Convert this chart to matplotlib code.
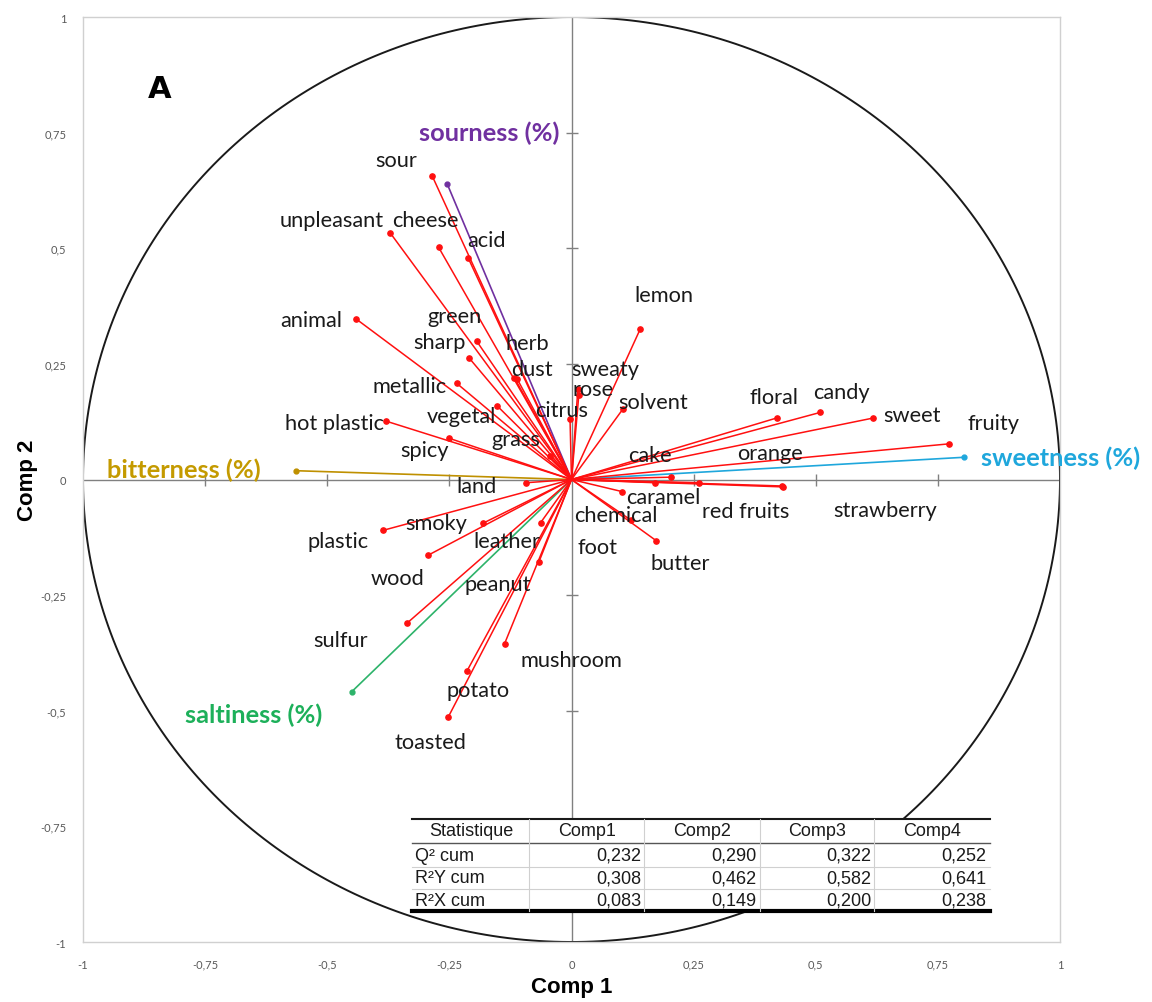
import matplotlib
matplotlib.use("Agg")
import matplotlib.pyplot as plt
import numpy as np

# ---------------- data ----------------
variables = ["sour", "unpleasant", "cheese", "acid", "animal", "green", "sharp", "herb", "dust",
             "metallic", "vegetal", "hot plastic", "spicy", "grass", "citrus", "rose", "sweaty",
             "lemon", "solvent", "floral", "candy", "sweet", "fruity", "cake", "orange", "caramel",
             "chemical", "red fruits", "strawberry", "foot", "butter", "land", "plastic", "smoky",
             "leather", "wood", "peanut", "sulfur", "mushroom", "potato", "toasted"]
comp1 = [-0.285, -0.371, -0.272, -0.212, -0.442, -0.194, -0.209, -0.117, -0.111,
         -0.235, -0.152, -0.379, -0.250, -0.045, -0.003, 0.015, 0.013,
         0.141, 0.105, 0.420, 0.509, 0.618, 0.772, 0.203, 0.431, 0.171,
         0.103, 0.262, 0.433, 0.122, 0.173, -0.093, -0.386, -0.182,
         -0.063, -0.294, -0.067, -0.336, -0.137, -0.214, -0.252]
comp2 = [0.656, 0.533, 0.502, 0.480, 0.348, 0.299, 0.262, 0.220, 0.217,
         0.208, 0.159, 0.126, 0.089, 0.051, 0.130, 0.183, 0.195,
         0.326, 0.152, 0.133, 0.145, 0.133, 0.077, 0.005, -0.014, -0.007,
         -0.026, -0.007, -0.016, -0.088, -0.132, -0.007, -0.110, -0.095,
         -0.093, -0.164, -0.179, -0.310, -0.355, -0.414, -0.513]
# label positions (layout only, data units)
label_x = [-0.358, -0.490, -0.300, -0.174, -0.533, -0.240, -0.270, -0.090, -0.080,
           -0.332, -0.225, -0.486, -0.300, -0.113, -0.020, 0.045, 0.070,
           0.190, 0.168, 0.414, 0.553, 0.697, 0.864, 0.160, 0.406, 0.188,
           0.091, 0.356, 0.643, 0.053, 0.223, -0.195, -0.477, -0.277,
           -0.133, -0.356, -0.150, -0.473, 0.000, -0.192, -0.289]
label_y = [0.690, 0.562, 0.562, 0.517, 0.344, 0.353, 0.297, 0.295, 0.240,
           0.203, 0.138, 0.123, 0.063, 0.087, 0.151, 0.196, 0.240,
           0.400, 0.168, 0.179, 0.190, 0.140, 0.123, 0.054, 0.058, -0.037,
           -0.076, -0.069, -0.065, -0.145, -0.180, -0.013, -0.134, -0.093,
           -0.132, -0.212, -0.225, -0.346, -0.391, -0.456, -0.568]

sup_names = ["sourness (%)", "bitterness (%)", "sweetness (%)", "saltiness (%)"]
sup_comp1 = [-0.254, -0.564, 0.803, -0.450]
sup_comp2 = [0.638, 0.019, 0.048, -0.459]
sup_colors = ["#7030A0", "#BF9000", "#1FA7DC", "#2DB36A"]
sup_text_colors = ["#7030A0", "#C49A00", "#1FA7DC", "#1DB05A"]
sup_label_x = [-0.168, -0.794, 1.001, -0.650]
sup_label_y = [0.750, 0.023, 0.048, -0.508]

table_cols = ["Statistique", "Comp1", "Comp2", "Comp3", "Comp4"]
table_rows = ["Q² cum", "R²Y cum", "R²X cum"]
q2_cum = [0.232, 0.290, 0.322, 0.252]
r2y_cum = [0.308, 0.462, 0.582, 0.641]
r2x_cum = [0.083, 0.149, 0.200, 0.238]

ticks = [-1, -0.75, -0.5, -0.25, 0, 0.25, 0.5, 0.75, 1]

# ---------------- figure ----------------
plt.rcParams['font.family'] = ['Lato', 'DejaVu Sans']
fig = plt.figure(figsize=(11.52, 10.03), dpi=100)
ax = fig.add_axes([83 / 1152, 60 / 1003, 977 / 1152, 925 / 1003])
ax.set_xlim(-1, 1)
ax.set_ylim(-1, 1)

for s in ax.spines.values():
    s.set_color("#D0D0D0")
    s.set_linewidth(1.0)

def fmt(v):
    if v == 0:
        return "0"
    if v == int(v):
        return str(int(v))
    return ("%g" % v).replace(".", ",")

ax.set_xticks(ticks)
ax.set_yticks(ticks)
ax.set_xticklabels([fmt(t) for t in ticks])
ax.set_yticklabels([fmt(t) for t in ticks])
ax.tick_params(length=0, labelsize=8, colors="#595959", pad=12)

# zero axes with small ticks
ax.axhline(0, color="#808080", lw=1.0, zorder=1)
ax.axvline(0, color="#808080", lw=1.0, zorder=1)
inner = [t for t in ticks if t not in (-1, 0, 1)]
ax.plot(inner, [0] * len(inner), ls="none", marker="|", ms=8, mew=1.0, color="#808080", zorder=1)
ax.plot([0] * len(inner), inner, ls="none", marker="_", ms=8, mew=1.0, color="#808080", zorder=1)

# circle
theta = np.linspace(0, 2 * np.pi, 400)
ax.plot(np.cos(theta), np.sin(theta), color="#1a1a1a", lw=1.4, zorder=2)

# supplementary variables
for n, x, y, c, tc, lx, ly in zip(sup_names, sup_comp1, sup_comp2, sup_colors,
                                  sup_text_colors, sup_label_x, sup_label_y):
    ax.plot([0, x], [0, y], color=c, lw=1.2, zorder=3)
    ax.plot([x], [y], "o", color=c, ms=3.5, zorder=4)
    ax.text(lx, ly, n, color=tc, fontsize=18.3, fontweight="bold", ha="center", va="center", zorder=5)

# red variables
for n, x, y, lx, ly in zip(variables, comp1, comp2, label_x, label_y):
    ax.plot([0, x], [0, y], color="#FF1010", lw=1.1, zorder=3)
    ax.plot([x], [y], "o", color="#FF1010", ms=3.8, zorder=4)
    ax.text(lx, ly, n, color="#1a1a1a", fontsize=15.7, ha="center", va="center", zorder=5)

ax.text(-0.843, 0.846, "A", fontsize=22, fontweight="bold", ha="center", va="center",
        family=["DejaVu Sans"])

axfont = ["Liberation Sans"]
ax.set_xlabel("Comp 1", fontsize=16, fontweight="bold", family=axfont, va="center")
ax.set_ylabel("Comp 2", fontsize=16, fontweight="bold", family=axfont, va="center")
ax.xaxis.set_label_coords(0.5, -0.0486)
ax.yaxis.set_label_coords(-0.0563, 0.5)

# ---------------- table ----------------
col_edges = [-0.3255, -0.086, 0.149, 0.385, 0.620, 0.856]
row_edges = [-0.733, -0.787, -0.837, -0.886, -0.934]
tfont = ["Liberation Sans"]
ax.add_patch(plt.Rectangle((col_edges[0], row_edges[-1]), col_edges[-1] - col_edges[0],
                           row_edges[0] - row_edges[-1], facecolor="white", edgecolor="none", zorder=6))
ax.plot([col_edges[0], col_edges[-1]], [row_edges[0]] * 2, color="#1a1a1a", lw=1.5, zorder=7)
ax.plot([col_edges[0], col_edges[-1]], [row_edges[1]] * 2, color="#555555", lw=1.0, zorder=7)
for r in row_edges[2:-1]:
    ax.plot([col_edges[0], col_edges[-1]], [r] * 2, color="#D0D0D0", lw=0.8, zorder=7)
ax.plot([col_edges[0], col_edges[-1]], [row_edges[-1]] * 2, color="#000000", lw=3.0, zorder=7)
for c in col_edges[1:-1]:
    ax.plot([c, c], [row_edges[-1], row_edges[0]], color="#D0D0D0", lw=0.8, zorder=7)
for i, name in enumerate(table_cols):
    cx = (col_edges[i] + col_edges[i + 1]) / 2
    ax.text(cx, (row_edges[0] + row_edges[1]) / 2, name, ha="center", va="center",
            fontsize=13, family=tfont, color="#1a1a1a", zorder=8)
rows_vals = [q2_cum, r2y_cum, r2x_cum]
for j, (rname, vals) in enumerate(zip(table_rows, rows_vals)):
    cy = (row_edges[j + 1] + row_edges[j + 2]) / 2
    ax.text(col_edges[0] + 0.006, cy, rname, ha="left", va="center", fontsize=13,
            family=tfont, color="#1a1a1a", zorder=8)
    for i, v in enumerate(vals):
        ax.text(col_edges[i + 2] - 0.006, cy, ("%.3f" % v).replace(".", ","), ha="right",
                va="center", fontsize=13, family=tfont, color="#1a1a1a", zorder=8)

fig.savefig("out.png", dpi=100, facecolor="white")
